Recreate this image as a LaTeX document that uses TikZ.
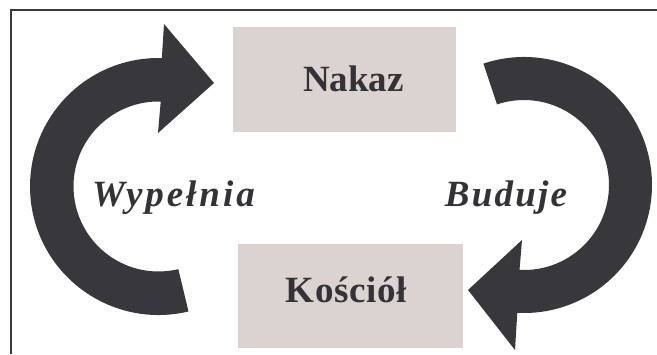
\documentclass[tikz,border=0pt]{standalone}
\usepackage{fontspec}
\setmainfont{Liberation Serif}
\usetikzlibrary{calc}
\definecolor{arrowc}{HTML}{38373C}
\definecolor{boxc}{HTML}{DAD3D0}
\definecolor{textc}{HTML}{333236}
\definecolor{framec}{HTML}{3A3A3A}
\begin{document}
\begin{tikzpicture}[x=1pt,y=1pt,
  boxstyle/.style={draw=none,fill=boxc,rectangle,inner sep=0pt},
  boxtext/.style={text=textc,inner sep=0pt,anchor=base,font=\fontsize{37}{40}\selectfont\bfseries},
  verbtext/.style={text=textc,inner sep=0pt,anchor=base,font=\fontsize{37}{40}\selectfont\bfseries\itshape\addfontfeature{LetterSpace=6}},
  bigarrow/.style={fill=arrowc,draw=none},
  framestyle/.style={draw=framec,line width=2pt}]
\useasboundingbox (0,0) rectangle (657,354);
\fill[white] (0,0) rectangle (657,354);
\draw[framestyle] (10.5,0) |- (657,343.5);
% boxes
\node[boxstyle,minimum width=223pt,minimum height=105pt] (nakazbox) at (344.5,274.5) {};
\node[boxstyle,minimum width=225pt,minimum height=104pt] (kosciolbox) at (350.5,58) {};
\node[boxtext] (nakaz) at (353.5,262) {Nakaz};
\node[boxtext,font=\fontsize{37}{40}\selectfont\bfseries\addfontfeature{LetterSpace=2}] (kosciol) at (346.5,52) {Kościół};
% labels
\node[verbtext,font=\fontsize{37}{40}\selectfont\bfseries\itshape\addfontfeature{LetterSpace=8}] (wypelnia) at (173.5,147) {Wypełnia};
\node[verbtext] (buduje) at (506,147) {Buduje};
% left arrow
\coordinate (CL) at (158.5,167.5);
\fill[bigarrow] ($(CL)+(-76.5:128.5)$) arc[start angle=-76.5,end angle=-271.5,radius=128.5]
  -- ($(CL)+(5.5,162.5)$) -- ($(CL)+(55.5,103.5)$) -- ($(CL)+(-0.5,53.5)$)
  -- ($(CL)+(88.5:85)$) arc[start angle=88.5,end angle=283.5,radius=85] -- cycle;
% right arrow
\coordinate (CR) at (524,169);
\fill[bigarrow] ($(CR)+(108.5:128)$) arc[start angle=108.5,end angle=-93,radius=128]
  -- ($(CR)+(-9,-165)$) -- ($(CR)+(-56,-105)$) -- ($(CR)+(-2,-55)$)
  -- ($(CR)+(-93:85)$) arc[start angle=-93,end angle=108.5,radius=85] -- cycle;
\end{tikzpicture}
\end{document}
